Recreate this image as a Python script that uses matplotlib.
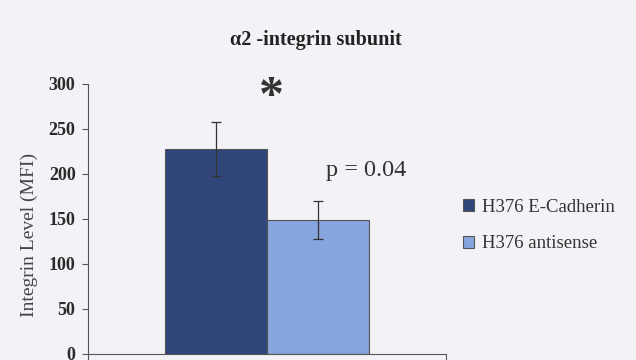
import matplotlib
matplotlib.use("Agg")
from matplotlib import pyplot as plt

groups = ["H376 E-Cadherin", "H376 antisense"]
means = [228, 149]
errs = [30, 21]
colors = ["#304579", "#86a4de"]
yticks = [0, 50, 100, 150, 200, 250, 300]

bg = "#f3f3f7"
plt.rcParams['font.family'] = ['Liberation Serif', 'DejaVu Serif']

fig = plt.figure(figsize=(6.36, 3.6), dpi=100, facecolor=bg)
ax = fig.add_axes([0.1384, 0.0167, 0.5629, 0.75], facecolor=bg)

for i in range(len(groups)):
    ax.bar(i, means[i], width=1.0, color=colors[i], edgecolor="#555555",
           linewidth=0.8, label=groups[i],
           yerr=errs[i], error_kw=dict(ecolor="#333333", elinewidth=0.9,
                                       capsize=3.5, capthick=0.9))

ax.set_xlim(-1.255, 2.255)
ax.set_ylim(0, 300)
ax.set_yticks(yticks)
ax.set_yticklabels([str(t) for t in yticks], fontsize=13, fontweight="bold",
                   color="#2a2a2a")
ax.set_xticks([-1.255, 2.255])
ax.set_xticklabels(["", ""])
ax.tick_params(axis="y", length=4, width=0.8, color="#555555", pad=5)
ax.tick_params(axis="x", length=5, width=0.8, color="#555555")
for s in ["top", "right"]:
    ax.spines[s].set_visible(False)
for s in ["left", "bottom"]:
    ax.spines[s].set_color("#555555")
    ax.spines[s].set_linewidth(0.8)
ax.set_ylabel("Integrin Level (MFI)", fontsize=14, color="#444444")
ax.yaxis.set_label_coords(-0.14, 0.44)

ax.text(0.54, 284, "*", fontsize=36, fontweight="bold", ha="center", va="center",
        color="#333333")
ax.text(1.47, 204, "p = 0.04", fontsize=17.5, ha="center", va="center", color="#333333")

fig.text(0.497, 0.89, "\u03b12 -integrin subunit", fontsize=14.5, fontweight="bold",
         ha="center", va="center", color="#222222")

leg = fig.legend(loc="upper left", bbox_to_anchor=(0.701, 0.495), frameon=False,
                 fontsize=13.5, handlelength=0.6, handleheight=0.6,
                 handletextpad=0.45, labelspacing=1.05)
for t in leg.get_texts():
    t.set_color("#333333")

fig.savefig("out.png", dpi=100, facecolor=bg)
